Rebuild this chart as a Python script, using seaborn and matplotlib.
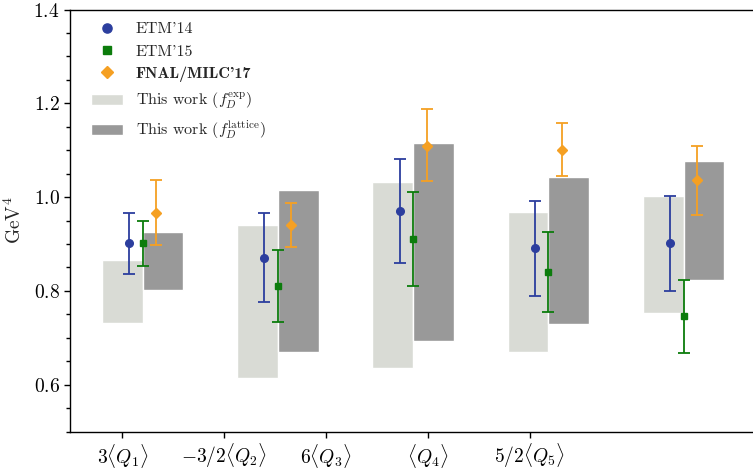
import numpy as np
import matplotlib
matplotlib.use("Agg")
import matplotlib.pyplot as plt
import seaborn as sns

# ---- data ----
categories = [r"$3\langle Q_1\rangle$", r"$-3/2\langle Q_2\rangle$", r"$6\langle Q_3\rangle$",
              r"$\langle Q_4\rangle$", r"$5/2\langle Q_5\rangle$"]
etm14 = [0.901, 0.870, 0.970, 0.891, 0.901]
etm14_lo = [0.835, 0.776, 0.860, 0.790, 0.800]
etm14_hi = [0.966, 0.965, 1.081, 0.992, 1.002]
etm15 = [0.901, 0.810, 0.911, 0.840, 0.746]
etm15_lo = [0.853, 0.734, 0.810, 0.754, 0.667]
etm15_hi = [0.948, 0.887, 1.010, 0.926, 0.823]
fnal = [0.967, 0.940, 1.110, 1.101, 1.036]
fnal_lo = [0.898, 0.894, 1.034, 1.044, 0.962]
fnal_hi = [1.036, 0.987, 1.187, 1.157, 1.110]
exp_lo = [0.731, 0.614, 0.635, 0.670, 0.753]
exp_hi = [0.865, 0.940, 1.032, 0.968, 1.002]
lat_lo = [0.802, 0.670, 0.693, 0.729, 0.823]
lat_hi = [0.925, 1.0145, 1.115, 1.042, 1.076]

sns.set_theme(style="ticks")
plt.rcParams.update({
    "font.family": "serif",
    "font.serif": ["cmr10"],
    "mathtext.fontset": "cm",
    "axes.formatter.use_mathtext": True,
    "axes.unicode_minus": False,
    "axes.linewidth": 1.0,
    "xtick.color": "black",
    "ytick.color": "black",
    "axes.edgecolor": "black",
})

fig = plt.figure(figsize=(7.53, 4.72), dpi=100)
ax = fig.add_axes([0.093, 0.0858, 0.907, 0.894])

n = len(categories)
c = np.arange(n) * 1.327
w = 0.4

b1 = ax.bar(c, np.array(exp_hi) - np.array(exp_lo), bottom=exp_lo, width=w,
            color="#d9dbd5", zorder=1)
b2 = ax.bar(c + w, np.array(lat_hi) - np.array(lat_lo), bottom=lat_lo, width=w,
            color="#999999", zorder=1)

def eb(xpos, y, lo, hi, color, marker, ms):
    y = np.array(y)
    yerr = np.vstack([y - np.array(lo), np.array(hi) - y])
    return ax.errorbar(xpos, y, yerr=yerr, fmt=marker, color=color, ms=ms,
                       mec=color, capsize=4, elinewidth=1.3, capthick=1.3,
                       zorder=3)

e1 = eb(c + 0.067, etm14, etm14_lo, etm14_hi, "#2c3e9e", "o", 5.5)
e2 = eb(c + 0.2, etm15, etm15_lo, etm15_hi, "#0c7c0c", "s", 5.0)
e3 = eb(c + 0.333, fnal, fnal_lo, fnal_hi, "#f5a023", "D", 5.0)

ax.set_xlim(-0.513, 6.19)
ax.set_ylim(0.5, 1.4)
ax.set_xticks(np.arange(n))
ax.set_xticklabels(categories, fontsize=14)
ax.set_yticks([0.6, 0.8, 1.0, 1.2, 1.4])
ax.set_yticks(np.arange(0.5, 1.4001, 0.05), minor=True)
ax.tick_params(axis="y", labelsize=14)
ax.tick_params(axis="both", which="major", length=4, width=1)
ax.tick_params(axis="y", which="minor", length=3, width=1)
ax.spines["right"].set_visible(False)
ax.set_ylabel(r"$\mathrm{GeV}^4$", fontsize=14, labelpad=6)

leg = ax.legend([e1[0], e2[0], e3[0], b1, b2],
                ["ETM'14", "ETM'15", "FNAL/MILC'17",
                 r"This work ($f_D^{\mathrm{exp}}$)", r"This work ($f_D^{\mathrm{lattice}}$)"],
                loc="upper left", bbox_to_anchor=(0.0214, 0.985), frameon=False,
                fontsize=11.5, borderaxespad=0.0, handletextpad=0.8, markerscale=1.2)
for t in leg.get_texts():
    if "FNAL" in t.get_text():
        t.set_fontfamily("cmb10")

fig.savefig("out.png", dpi=100)
